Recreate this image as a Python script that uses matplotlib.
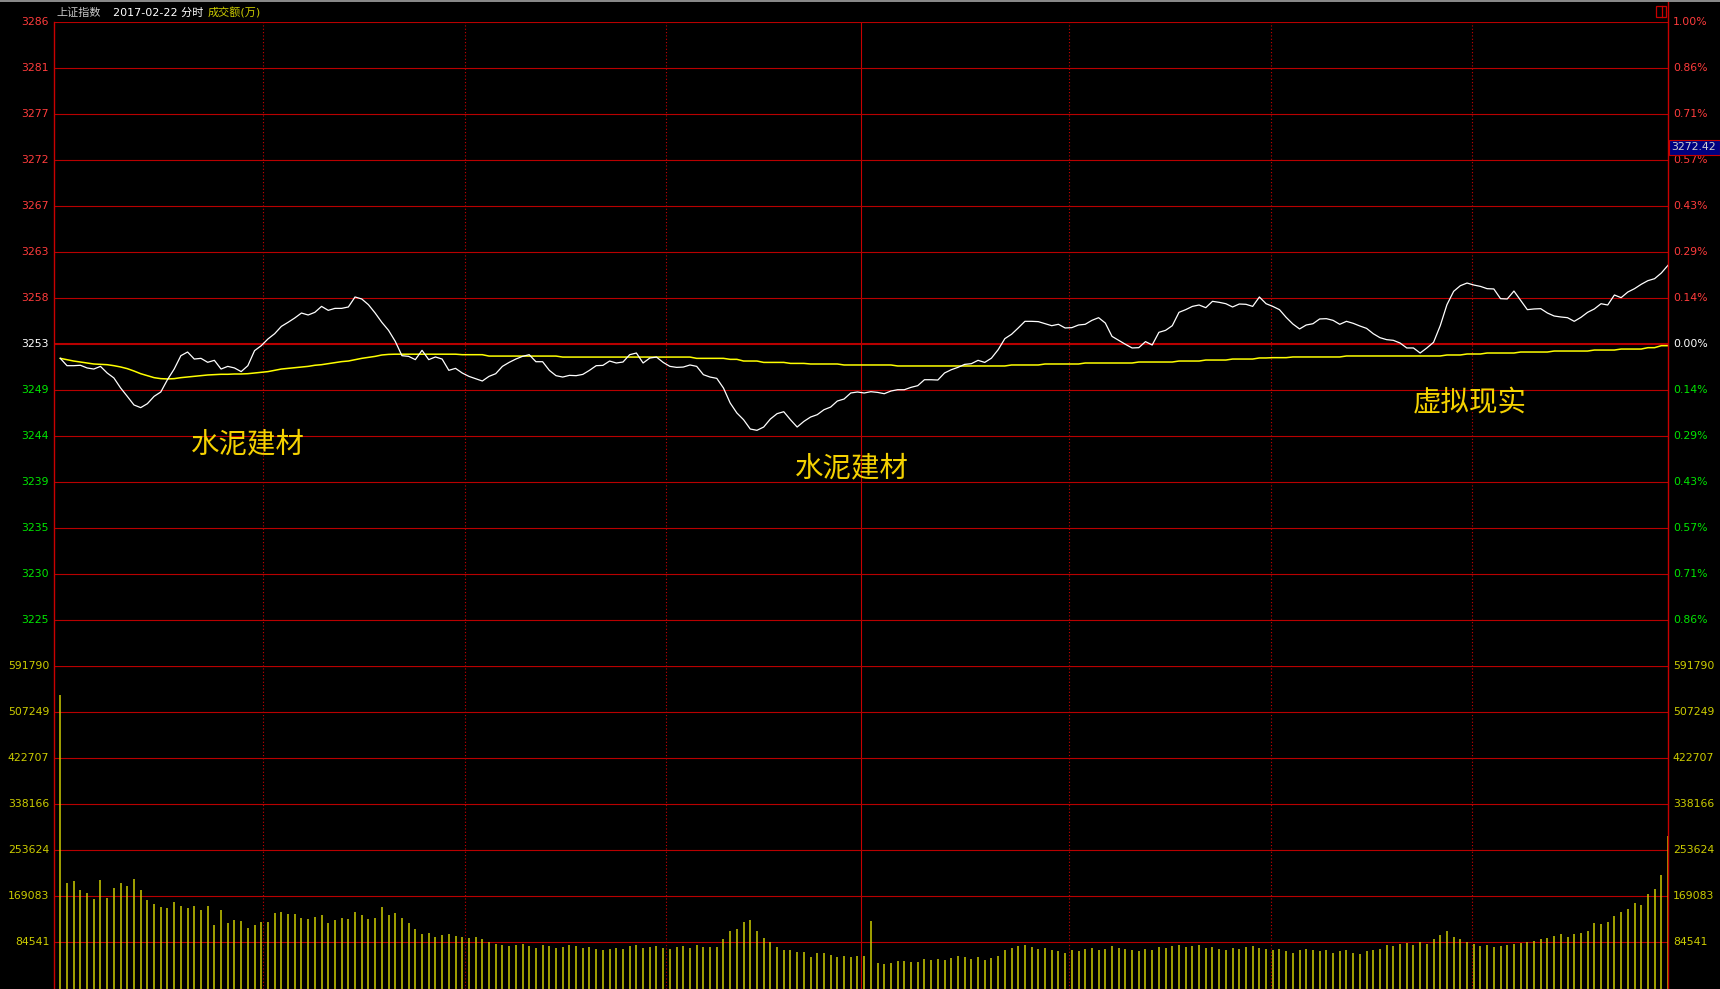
"""上证指数 2017-02-22 分时图（成交额）。"""
import matplotlib
matplotlib.use("Agg")
import matplotlib.pyplot as plt
from matplotlib.lines import Line2D
from matplotlib.patches import Rectangle

plt.rcParams['font.family'] = ['DejaVu Sans', 'Noto Sans CJK SC']

W, H = 1720, 989
PREV_CLOSE = 3253.33

# 分时价格（每分钟，9:30..15:00，共241点）
price = [
    3251.88, 3251.14, 3251.14, 3251.18, 3250.91, 3250.80, 3251.07, 3250.40, 3249.90, 3248.89,
    3248.04, 3247.17, 3246.90, 3247.30, 3248.04, 3248.48, 3249.73, 3250.80, 3252.15, 3252.52,
    3251.81, 3251.88, 3251.48, 3251.68, 3250.80, 3251.07, 3250.91, 3250.54, 3251.14, 3252.66,
    3253.16, 3253.84, 3254.37, 3255.11, 3255.52, 3255.96, 3256.46, 3256.26, 3256.53, 3257.13,
    3256.73, 3256.93, 3256.93, 3257.07, 3258.08, 3257.88, 3257.30, 3256.46, 3255.52, 3254.71,
    3253.60, 3252.15, 3252.08, 3251.75, 3252.69, 3251.75, 3252.02, 3251.81, 3250.67, 3250.87,
    3250.40, 3250.06, 3249.82, 3249.59, 3250.06, 3250.33, 3251.07, 3251.47, 3251.81, 3252.08,
    3252.25, 3251.54, 3251.54, 3250.67, 3250.13, 3249.99, 3250.16, 3250.13, 3250.26, 3250.67,
    3251.14, 3251.17, 3251.61, 3251.41, 3251.51, 3252.25, 3252.42, 3251.41, 3251.91, 3252.01,
    3251.47, 3251.07, 3250.97, 3251.00, 3251.21, 3251.07, 3250.23, 3249.99, 3249.86, 3248.88,
    3247.37, 3246.36, 3245.68, 3244.74, 3244.61, 3244.94, 3245.75, 3246.29, 3246.49, 3245.68,
    3244.94, 3245.51, 3245.95, 3246.19, 3246.69, 3246.96, 3247.57, 3247.77, 3248.38, 3248.48,
    3248.38, 3248.51, 3248.44, 3248.31, 3248.58, 3248.71, 3248.71, 3248.95, 3249.12, 3249.72,
    3249.72, 3249.69, 3250.40, 3250.73, 3250.97, 3251.27, 3251.34, 3251.68, 3251.47, 3251.90,
    3252.75, 3253.87, 3254.31, 3254.95, 3255.62, 3255.62, 3255.59, 3255.38, 3255.18, 3255.32,
    3254.95, 3254.98, 3255.25, 3255.32, 3255.72, 3255.99, 3255.45, 3254.10, 3253.70, 3253.30,
    3252.93, 3252.96, 3253.57, 3253.23, 3254.51, 3254.71, 3255.18, 3256.53, 3256.80, 3257.13,
    3257.27, 3257.00, 3257.64, 3257.54, 3257.40, 3257.07, 3257.37, 3257.34, 3257.13, 3258.08,
    3257.40, 3257.13, 3256.80, 3256.02, 3255.35, 3254.85, 3255.25, 3255.38, 3255.86, 3255.89,
    3255.72, 3255.32, 3255.62, 3255.42, 3255.15, 3254.91, 3254.37, 3253.97, 3253.77, 3253.70,
    3253.43, 3252.93, 3252.93, 3252.42, 3252.93, 3253.50, 3255.18, 3257.30, 3258.65, 3259.22,
    3259.49, 3259.29, 3259.15, 3258.92, 3258.89, 3257.91, 3257.88, 3258.68, 3257.74, 3256.80,
    3256.87, 3256.90, 3256.46, 3256.16, 3256.06, 3255.99, 3255.62, 3256.02, 3256.53, 3256.87,
    3257.40, 3257.27, 3258.28, 3258.01, 3258.58, 3258.92, 3259.36, 3259.73, 3259.93, 3260.50,
    3261.28,
]

# 均价线
avg_price = [
    3251.88, 3251.75, 3251.61, 3251.51, 3251.41, 3251.31, 3251.28, 3251.24, 3251.14, 3251.01,
    3250.84, 3250.60, 3250.33, 3250.13, 3249.93, 3249.83, 3249.80, 3249.83, 3249.93, 3250.00,
    3250.06, 3250.13, 3250.20, 3250.23, 3250.27, 3250.27, 3250.30, 3250.30, 3250.33, 3250.40,
    3250.47, 3250.54, 3250.67, 3250.80, 3250.87, 3250.94, 3251.01, 3251.07, 3251.18, 3251.24,
    3251.34, 3251.44, 3251.55, 3251.61, 3251.75, 3251.88, 3251.98, 3252.08, 3252.22, 3252.28,
    3252.30, 3252.30, 3252.30, 3252.30, 3252.30, 3252.30, 3252.30, 3252.30, 3252.30, 3252.30,
    3252.25, 3252.25, 3252.25, 3252.25, 3252.11, 3252.11, 3252.11, 3252.11, 3252.11, 3252.11,
    3252.11, 3252.11, 3252.11, 3252.11, 3252.11, 3252.01, 3252.01, 3252.01, 3252.01, 3252.01,
    3252.01, 3252.01, 3252.01, 3252.01, 3252.01, 3252.01, 3252.01, 3252.01, 3252.01, 3252.01,
    3252.01, 3252.01, 3252.01, 3252.01, 3252.01, 3251.88, 3251.88, 3251.88, 3251.88, 3251.88,
    3251.78, 3251.78, 3251.61, 3251.61, 3251.61, 3251.47, 3251.47, 3251.47, 3251.47, 3251.37,
    3251.37, 3251.37, 3251.31, 3251.31, 3251.31, 3251.31, 3251.31, 3251.21, 3251.21, 3251.21,
    3251.21, 3251.21, 3251.21, 3251.21, 3251.21, 3251.11, 3251.11, 3251.11, 3251.11, 3251.11,
    3251.11, 3251.11, 3251.11, 3251.11, 3251.11, 3251.11, 3251.11, 3251.11, 3251.11, 3251.11,
    3251.11, 3251.11, 3251.21, 3251.21, 3251.21, 3251.21, 3251.21, 3251.31, 3251.31, 3251.31,
    3251.31, 3251.31, 3251.31, 3251.41, 3251.41, 3251.41, 3251.41, 3251.41, 3251.41, 3251.41,
    3251.41, 3251.51, 3251.51, 3251.51, 3251.51, 3251.51, 3251.51, 3251.61, 3251.61, 3251.61,
    3251.61, 3251.71, 3251.71, 3251.71, 3251.71, 3251.81, 3251.81, 3251.81, 3251.81, 3251.92,
    3251.92, 3251.95, 3251.95, 3251.95, 3252.02, 3252.02, 3252.02, 3252.02, 3252.02, 3252.02,
    3252.02, 3252.02, 3252.12, 3252.12, 3252.12, 3252.12, 3252.12, 3252.12, 3252.12, 3252.12,
    3252.12, 3252.12, 3252.12, 3252.12, 3252.12, 3252.12, 3252.12, 3252.22, 3252.22, 3252.22,
    3252.32, 3252.32, 3252.32, 3252.42, 3252.42, 3252.42, 3252.42, 3252.42, 3252.52, 3252.52,
    3252.52, 3252.52, 3252.52, 3252.62, 3252.62, 3252.62, 3252.62, 3252.62, 3252.62, 3252.72,
    3252.72, 3252.72, 3252.72, 3252.82, 3252.82, 3252.82, 3252.82, 3252.96, 3252.96, 3253.16,
    3253.16,
]

# 成交额（万）
amount = [
    539300, 193300, 197000, 180400, 174900, 163800, 198800, 165700, 184100, 193300,
    187800, 200600, 180400, 162000, 154600, 149100, 147300, 158300, 150900, 147300,
    150900, 143600, 150900, 116000, 143600, 119600, 125200, 123300, 110400, 116000,
    121500, 121500, 138100, 139900, 136200, 136200, 130000, 128000, 132000, 135000,
    120000, 125000, 130000, 128000, 140000, 135000, 128000, 130000, 150000, 135000,
    138000, 130000, 120000, 110000, 100000, 102000, 95000, 98000, 100000, 96000,
    95000, 92000, 95000, 90000, 85000, 82000, 80000, 78000, 80000, 82000,
    78000, 75000, 80000, 78000, 75000, 76000, 80000, 78000, 74000, 76000,
    72000, 70000, 72000, 75000, 72000, 78000, 80000, 74000, 76000, 78000,
    74000, 72000, 76000, 78000, 75000, 80000, 76000, 75500, 75500, 90200,
    104900, 108600, 121500, 125200, 104900, 92000, 84700, 75500, 69900, 69900,
    66300, 66300, 57100, 64400, 64400, 60700, 57100, 58900, 57100, 58900,
    58900, 123300, 46000, 44200, 46000, 49700, 49700, 47900, 47900, 53400,
    51500, 53400, 51500, 55200, 58900, 57100, 53400, 57100, 51500, 55200,
    58900, 70000, 75000, 78000, 80000, 76000, 72000, 74000, 70000, 68000,
    66000, 70000, 68000, 72000, 74000, 70000, 72000, 78000, 74000, 72000,
    70000, 68000, 72000, 70000, 76000, 74000, 78000, 80000, 76000, 78000,
    80000, 74000, 76000, 72000, 70000, 74000, 72000, 76000, 78000, 74000,
    72000, 70000, 72000, 68000, 66000, 70000, 72000, 70000, 68000, 70000,
    66000, 68000, 70000, 66000, 64000, 68000, 70000, 72000, 80000, 78000,
    82000, 84000, 80000, 86000, 82000, 90000, 98000, 105000, 95000, 90000,
    86000, 82000, 78000, 80000, 76000, 78000, 80000, 82000, 84000, 86000,
    88000, 90000, 92000, 96000, 99400, 93900, 99400, 101200, 104900, 119600,
    117800, 121500, 132500, 139900, 145400, 156500, 152800, 173000, 182200, 208000,
    279800,
]

# 坐标轴刻度文字
price_labels = ["3286", "3281", "3277", "3272", "3267", "3263", "3258", "3253",
                "3249", "3244", "3239", "3235", "3230", "3225"]
pct_labels = ["1.00%", "0.86%", "0.71%", "0.57%", "0.43%", "0.29%", "0.14%", "0.00%",
              "0.14%", "0.29%", "0.43%", "0.57%", "0.71%", "0.86%"]
vol_labels = ["591790", "507249", "422707", "338166", "253624", "169083", "84541"]
VOL_MAX = 591790

# 概念标注
notes = [("水泥建材", 248, 444), ("水泥建材", 852, 468), ("虚拟现实", 1470, 403)]

RED = "#C80000"
GRID_RED = "#B80000"
UP = "#FF3C3C"
DOWN = "#00E600"
VOLC = "#CCCC00"

# 半小时分隔线（分钟序号，屏幕上略有取整偏移）
half_hours = [30.2, 60.4, 90.4, 150.6, 180.8, 210.7]
NOON = 119.6


def fx(px):
    return px / W


def fy(py):
    return 1 - py / H


fig = plt.figure(figsize=(W / 100, H / 100), dpi=100, facecolor="black")
L, R = 54, 1668
TOP, MID, BOT = 22, 666, 988.5
axp = fig.add_axes([fx(L), fy(MID), fx(R) - fx(L), fy(TOP) - fy(MID)])
axv = fig.add_axes([fx(L), fy(BOT), fx(R) - fx(L), fy(MID) - fy(BOT)])

n = len(price)
xs = list(range(n))
xlim = (-0.94, n - 1)
span = PREV_CLOSE * 0.01

for ax in (axp, axv):
    ax.set_facecolor("black")
    ax.set_xlim(*xlim)
    for s in ax.spines.values():
        s.set_visible(False)
    ax.set_xticks([])
    ax.set_yticks([])
    for t in half_hours:
        ax.axvline(t, color=RED, lw=0.8, ls=(0, (1, 2)), zorder=1)
    ax.axvline(NOON, color=RED, lw=0.8, zorder=1)

axp.set_ylim(PREV_CLOSE - span, PREV_CLOSE + span)
axv.set_ylim(0, VOL_MAX)

# 价格区横线和刻度
for k, (lab, pl) in enumerate(zip(price_labels, pct_labels)):
    lvl = 7 - k
    y = PREV_CLOSE + span * lvl / 7
    axp.axhline(y, color=GRID_RED, lw=1.5 if lvl == 0 else 0.8, zorder=1)
    c = UP if lvl > 0 else ("white" if lvl == 0 else DOWN)
    axp.text(-0.003, y, lab, transform=axp.get_yaxis_transform(), ha="right",
             va="center", color=c, fontsize=7.8)
    axp.text(1.003, y, pl, transform=axp.get_yaxis_transform(), ha="left",
             va="center", color=c, fontsize=7.8)

# 成交额区横线和刻度
for k, lab in enumerate(vol_labels):
    y = VOL_MAX * (7 - k) / 7
    axv.axhline(y, color=GRID_RED, lw=1.6 if k == 0 else 0.8, zorder=1)
    for xa, ha in ((-0.003, "right"), (1.003, "left")):
        axv.text(xa, y, lab, transform=axv.get_yaxis_transform(), ha=ha,
                 va="center", color=VOLC, fontsize=7.8)

axp.plot(xs, avg_price, color="#FFFF00", lw=1.1, zorder=3)
axp.plot(xs, price, color="white", lw=0.9, zorder=4)
axv.vlines(xs, 0, amount, color=VOLC, lw=1.1, zorder=3)

# 左右边框
fig.add_artist(Line2D([fx(L), fx(L)], [fy(TOP), 0], color=RED, lw=1.0))
fig.add_artist(Line2D([fx(R), fx(R)], [1, 0], color=RED, lw=1.0))
fig.add_artist(Line2D([0, 1], [fy(0.8), fy(0.8)], color="#8C8C8C", lw=1.4))

# 标题
fig.text(fx(56), fy(12.5), "上证指数", color="#C8C8C8", fontsize=8.0,
         va="center", ha="left")
fig.text(fx(113), fy(12.5), "2017-02-22 分时", color="white", fontsize=8.0,
         va="center", ha="left")
fig.text(fx(208), fy(12.5), "成交额(万)", color=VOLC, fontsize=8.0,
         va="center", ha="left")

# 右上角小图标
fig.add_artist(Rectangle((fx(1656), fy(16.5)), fx(10), 10.5 / H, fill=False,
                         edgecolor=RED, lw=0.9))
fig.add_artist(Line2D([fx(1662), fx(1662)], [fy(16.5), fy(6)], color=RED, lw=0.9))

# 当前价格框
fig.add_artist(Rectangle((fx(1669), fy(155)), fx(51), 15 / H, facecolor="#000080",
                         edgecolor=RED, lw=0.8))
fig.text(fx(1694), fy(147.5), "3272.42", color="#D0D0D0", fontsize=7.8,
         ha="center", va="center")

for txt, px, py in notes:
    fig.text(fx(px), fy(py), txt, color="#F5D200", fontsize=20.5,
             ha="center", va="center", family=["Noto Sans CJK SC", "DejaVu Sans"])

fig.savefig("out.png", dpi=100, facecolor="black")
